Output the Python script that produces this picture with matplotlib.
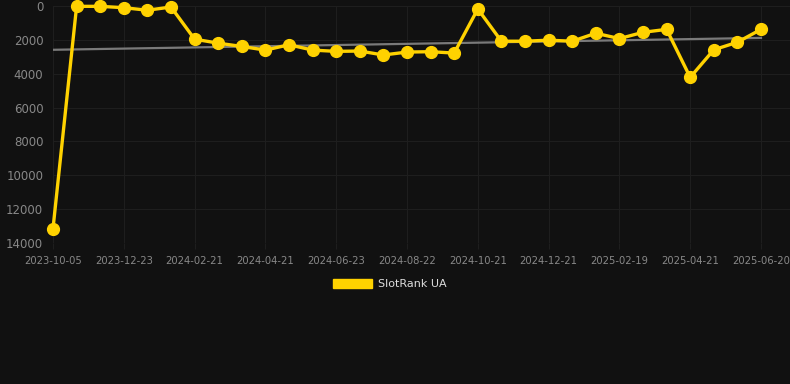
import numpy as np
import matplotlib
matplotlib.use("Agg")
import matplotlib.pyplot as plt
from matplotlib.patches import Patch

# rank values, one point per date step (ticks every 3rd point)
ranks = [13150, 20, 20, 100, 250, 60, 1960, 2195, 2390, 2605, 2290, 2605,
         2680, 2660, 2895, 2720, 2700, 2780, 175, 2080, 2080, 2020, 2080,
         1610, 1925, 1555, 1380, 4215, 2585, 2140, 1380]
tick_labels = ['2023-10-05', '2023-12-23', '2024-02-21', '2024-04-21',
               '2024-06-23', '2024-08-22', '2024-10-21', '2024-12-21',
               '2025-02-19', '2025-04-21', '2025-06-20']
series_name = 'SlotRank UA'

bg = '#111111'
gold = '#FFD200'

x = np.arange(len(ranks))
y = np.array(ranks)

fig = plt.figure(figsize=(7.9, 3.84), dpi=100, facecolor=bg)
ax = fig.add_axes([53 / 790, 1 - 243 / 384, 737 / 790, 237 / 384])
ax.set_facecolor(bg)

# trend line (linear fit)
k, b = np.polyfit(x, y, 1)
ax.plot([x[0], x[-1]], [k * x[0] + b, k * x[-1] + b], color='#7a7a7a', lw=1.6, zorder=2)

ax.plot(x, y, color=gold, lw=2.4, marker='o', markersize=8.5, zorder=3, clip_on=False)

ax.set_ylim(14000, 0)
ax.set_yticks(range(0, 14001, 2000))
ax.set_xlim(0, 30 + 29 / 23.6)
ax.set_xticks(x[::3])
ax.set_xticklabels(tick_labels)

ax.grid(True, color='#1e1e1e', lw=0.8)
ax.set_axisbelow(True)
for s in ax.spines.values():
    s.set_visible(False)
ax.tick_params(axis='y', colors='#888888', labelsize=8.5, length=0, pad=7)
ax.tick_params(axis='x', colors='#888888', labelsize=7.2, length=4, color='#1e1e1e', pad=5)

handle = Patch(facecolor=gold, edgecolor=gold)
leg = fig.legend([handle], [series_name], loc='center', bbox_to_anchor=(390 / 790, 1 - 284 / 384),
                 frameon=False, fontsize=8, handlelength=3.5, handleheight=0.9,
                 handletextpad=0.5)
for t in leg.get_texts():
    t.set_color('#dddddd')

fig.savefig('out.png', dpi=100, facecolor=bg)
